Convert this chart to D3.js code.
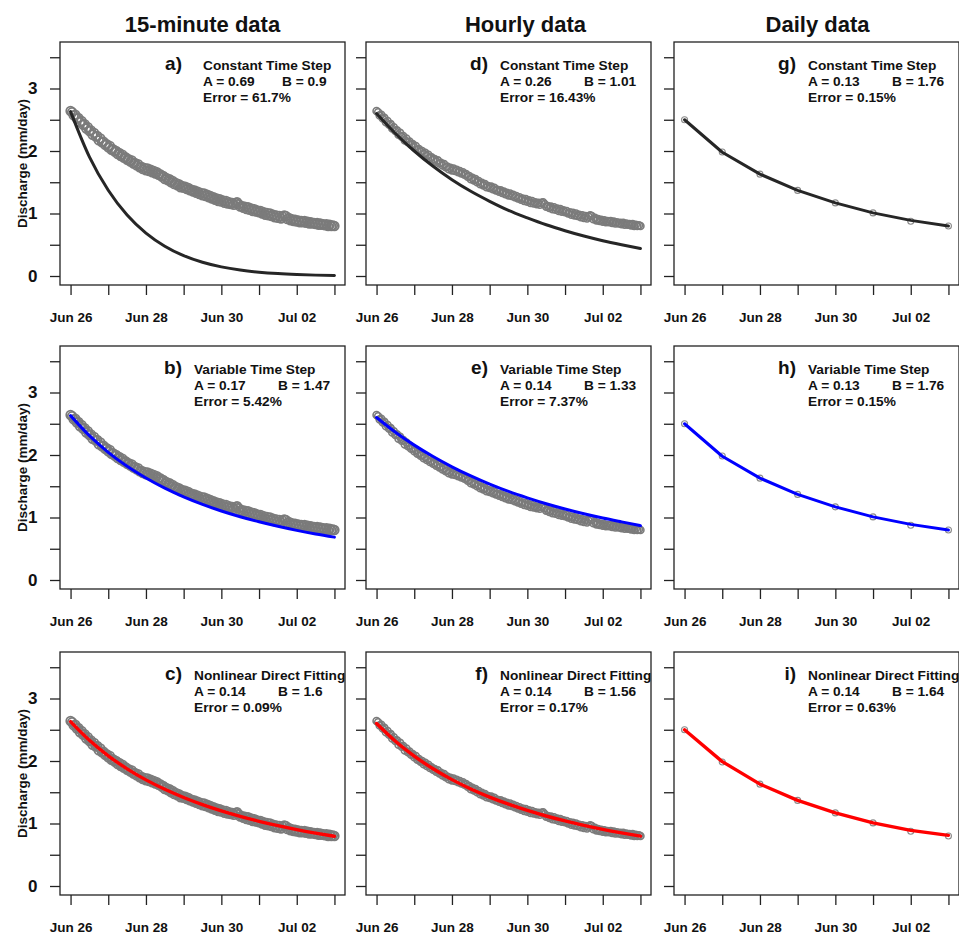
<!DOCTYPE html>
<html>
<head>
<meta charset="utf-8">
<script src="https://cdn.jsdelivr.net/npm/d3@7"></script>
<style>
  body { margin: 0; background: #fff; }
  svg text { font-family: "Liberation Sans", Arial, Helvetica, sans-serif; font-weight: bold; fill: #111; }
</style>
</head>
<body>
<svg id="chart" width="959" height="934"></svg>
<script>
// ---------------- data ----------------
const recessionStart = new Date(2013, 5, 26); // Jun 26, 00:00

const columnTitles = ["15-minute data", "Hourly data", "Daily data"];
const methodNames  = ["Constant Time Step", "Variable Time Step", "Nonlinear Direct Fitting"];
const panelLetters = [["a)", "b)", "c)"], ["d)", "e)", "f)"], ["g)", "h)", "i)"]];
const paramA   = [["0.69", "0.17", "0.14"], ["0.26", "0.14", "0.14"], ["0.13", "0.13", "0.14"]];
const paramB   = [["0.9", "1.47", "1.6"], ["1.01", "1.33", "1.56"], ["1.76", "1.76", "1.64"]];
const errorPct = [["61.7", "5.42", "0.09"], ["16.43", "7.37", "0.17"], ["0.15", "0.15", "0.63"]];

// observed discharge (mm/day), one value per hour, Jun 26 00:00 to Jul 03 00:00
const obsHourly = [
  2.64, 2.62, 2.57, 2.58, 2.52, 2.53, 2.46, 2.48, 2.42, 2.43, 2.36, 2.38, 2.32, 2.33, 2.26, 2.29, 2.23, 2.24, 2.17, 2.20, 2.14, 2.15, 2.10, 2.11,
  2.06, 2.08, 2.02, 2.03, 1.99, 2.00, 1.95, 1.97, 1.92, 1.94, 1.89, 1.90, 1.86, 1.87, 1.83, 1.85, 1.80, 1.81, 1.77, 1.79, 1.74, 1.75, 1.71, 1.73,
  1.69, 1.72, 1.68, 1.70, 1.66, 1.68, 1.64, 1.66, 1.62, 1.63, 1.59, 1.60, 1.55, 1.57, 1.53, 1.55, 1.50, 1.52, 1.47, 1.49, 1.45, 1.47, 1.42, 1.44,
  1.41, 1.43, 1.39, 1.41, 1.37, 1.38, 1.35, 1.37, 1.33, 1.35, 1.31, 1.33, 1.29, 1.32, 1.28, 1.30, 1.26, 1.28, 1.24, 1.26, 1.22, 1.24, 1.20, 1.23,
  1.19, 1.21, 1.17, 1.20, 1.16, 1.18, 1.15, 1.17, 1.14, 1.17, 1.18, 1.15, 1.11, 1.12, 1.09, 1.11, 1.07, 1.10, 1.06, 1.08, 1.04, 1.07, 1.03, 1.05,
  1.02, 1.04, 1.00, 1.02, 0.98, 1.01, 0.97, 1.00, 0.96, 0.98, 0.94, 0.97, 0.93, 0.96, 0.92, 0.95, 0.97, 0.96, 0.91, 0.93, 0.89, 0.91, 0.88, 0.90,
  0.87, 0.89, 0.86, 0.88, 0.86, 0.88, 0.85, 0.87, 0.84, 0.86, 0.84, 0.85, 0.83, 0.85, 0.82, 0.84, 0.82, 0.83, 0.81, 0.83, 0.80, 0.82, 0.80, 0.81, 0.80
];

// observed discharge, daily values
const obsDaily = [2.50, 1.985, 1.63, 1.37, 1.17, 1.01, 0.875, 0.80];

// fitted recessions for the sub-daily records, every 12 hours
const fitConst15   = [2.63, 1.906, 1.372, 0.976, 0.687, 0.477, 0.326, 0.220, 0.146, 0.0955, 0.0611, 0.0383, 0.0235, 0.0140, 0.0081];
const fitVar15     = [2.63, 2.309, 2.043, 1.820, 1.631, 1.469, 1.330, 1.209, 1.104, 1.012, 0.931, 0.859, 0.794, 0.737, 0.686];
const fitNls15     = [2.63, 2.331, 2.083, 1.875, 1.698, 1.547, 1.416, 1.301, 1.201, 1.113, 1.035, 0.965, 0.902, 0.846, 0.795];
const fitConstHour = [2.60, 2.280, 2.000, 1.755, 1.540, 1.355, 1.195, 1.050, 0.930, 0.820, 0.725, 0.640, 0.565, 0.500, 0.440];
const fitVarHour   = [2.60, 2.365, 2.158, 1.975, 1.811, 1.665, 1.534, 1.417, 1.314, 1.220, 1.136, 1.060, 0.992, 0.930, 0.870];
const fitNlsHour   = [2.60, 2.316, 2.078, 1.875, 1.702, 1.553, 1.423, 1.309, 1.209, 1.120, 1.041, 0.971, 0.907, 0.850, 0.798];

// fitted recessions for the daily record
const fitConstDay = [2.50, 1.98, 1.63, 1.37, 1.17, 1.01, 0.89, 0.80];
const fitVarDay   = [2.50, 1.98, 1.63, 1.37, 1.17, 1.01, 0.89, 0.80];
const fitNlsDay   = [2.50, 1.99, 1.63, 1.37, 1.17, 1.01, 0.89, 0.81];

const yTickValues = [0, 0.5, 1, 1.5, 2, 2.5, 3, 3.5];
const yTickLabels = [0, 1, 2, 3];

// ---------------- layout ----------------
const HOUR = 3600 * 1000, DAY = 24 * HOUR;
const colLeft = [60, 366, 674];
const rowTop  = [42, 346, 652];
const pw = 285, ph = 243;
const titleX = [202.5, 525.5, 817.5];

const svg = d3.select("#chart");

const x = d3.scaleTime()
  .domain([new Date(+recessionStart - 0.28 * DAY), new Date(+recessionStart + 7.28 * DAY)])
  .range([0, pw]);
const y = d3.scaleLinear().domain([-0.144, 3.744]).range([ph, 0]);

const xTicks = d3.range(8).map(i => new Date(+recessionStart + i * DAY));
const fmtDate = d3.timeFormat("%b %d");

const fits = [
  [fitConst15, fitVar15, fitNls15],
  [fitConstHour, fitVarHour, fitNlsHour],
  [fitConstDay, fitVarDay, fitNlsDay]
];
const lineColors = ["#262626", "#0000ff", "#ff0000"];

// column titles
columnTitles.forEach((t, c) => {
  svg.append("text")
    .attr("x", titleX[c]).attr("y", 31.5)
    .attr("text-anchor", "middle")
    .style("font-size", "22px")
    .text(t);
});

for (let c = 0; c < 3; c++) {
  for (let r = 0; r < 3; r++) {
    const g = svg.append("g").attr("transform", `translate(${colLeft[c]},${rowTop[r]})`);
    const clipId = `clip-${c}-${r}`;
    g.append("clipPath").attr("id", clipId)
      .append("rect").attr("x", 0).attr("y", 0).attr("width", pw).attr("height", ph);
    const body = g.append("g").attr("clip-path", `url(#${clipId})`);

    // observations
    const obs = c < 2
      ? obsHourly.map((v, i) => ({ t: new Date(+recessionStart + i * HOUR), v }))
      : obsDaily.map((v, i) => ({ t: new Date(+recessionStart + i * DAY), v }));
    const rad = c === 0 ? 4.3 : (c === 1 ? 3.5 : 3);
    body.append("g").selectAll("circle").data(obs).join("circle")
      .attr("cx", d => x(d.t)).attr("cy", d => y(d.v)).attr("r", rad)
      .attr("fill", "none")
      .attr("stroke", c < 2 ? "#7b7b7b" : "#8a8a8a")
      .attr("stroke-width", c === 0 ? 1.8 : (c === 1 ? 1.6 : 1.1));

    // fitted recession
    const step = c < 2 ? DAY / 2 : DAY;
    const fit = fits[c][r].map((v, i) => ({ t: new Date(+recessionStart + i * step), v }));
    const line = d3.line()
      .x(d => x(d.t)).y(d => y(d.v))
      .curve(c < 2 ? d3.curveMonotoneX : d3.curveLinear);
    body.append("path").datum(fit)
      .attr("d", line)
      .attr("fill", "none")
      .attr("stroke", lineColors[r])
      .attr("stroke-width", r === 2 ? 3.4 : 3)
      .attr("stroke-linejoin", "round")
      .attr("stroke-linecap", "round");

    // annotation
    const tx = (c === 0 && r === 0) ? 143 : 134;
    const bx = (c === 0 && r === 0) ? 222 : 218;
    body.append("text").attr("x", 122).attr("y", 27.5)
      .attr("text-anchor", "end").style("font-size", "19px")
      .text(panelLetters[c][r]);
    const ann = body.append("g").style("font-size", "13.7px");
    ann.append("text").attr("x", tx).attr("y", 27.5).text(methodNames[r]);
    ann.append("text").attr("x", tx).attr("y", 43.8).text(`A = ${paramA[c][r]}`);
    ann.append("text").attr("x", bx).attr("y", 43.8).text(`B = ${paramB[c][r]}`);
    ann.append("text").attr("x", tx).attr("y", 60).text(`Error = ${errorPct[c][r]}%`);

    // frame
    g.append("rect").attr("x", 0).attr("y", 0).attr("width", pw).attr("height", ph)
      .attr("fill", "none").attr("stroke", "#222").attr("stroke-width", 1.3);

    // axes
    const xa = g.append("g").attr("transform", `translate(0,${ph})`)
      .call(d3.axisBottom(x).tickValues(xTicks).tickSize(10).tickPadding(17.5)
        .tickFormat((d, i) => i % 2 === 0 ? fmtDate(d) : ""));
    xa.select(".domain").remove();
    xa.selectAll("line").attr("stroke", "#222").attr("stroke-width", 1.3);
    xa.selectAll("text").style("font-size", "13.5px").style("font-family", null).attr("fill", "#111");

    const ya = g.append("g")
      .call(d3.axisLeft(y).tickValues(yTickValues).tickSize(10).tickPadding(12.5)
        .tickFormat(d => (c === 0 && yTickLabels.includes(d)) ? d : ""));
    ya.select(".domain").remove();
    ya.selectAll("line").attr("stroke", "#222").attr("stroke-width", 1.3);
    ya.selectAll("text").style("font-size", "17px").attr("fill", "#111");

    if (c === 0) {
      g.append("text")
        .attr("transform", `translate(${26.5 - colLeft[0]},${ph / 2}) rotate(-90)`)
        .attr("text-anchor", "middle")
        .style("font-size", "13.5px")
        .text("Discharge (mm/day)");
    }
  }
}
</script>
</body>
</html>
